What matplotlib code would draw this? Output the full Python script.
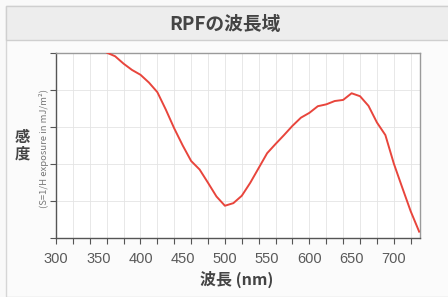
import matplotlib
matplotlib.use('Agg')
import matplotlib.pyplot as plt
from matplotlib.patches import Rectangle
import numpy as np

plt.rcParams['font.family'] = ['Noto Sans CJK JP', 'DejaVu Sans']

# ── data ──
wavelength = [350, 360, 370, 380, 390, 400, 410, 420, 430, 440, 450, 460,
              470, 480, 490, 500, 510, 520, 530, 540, 550, 560, 570, 580,
              590, 600, 610, 620, 630, 640, 650, 660, 670, 680, 690, 700,
              710, 720, 730]
sensitivity = [5.25, 5.02, 4.92, 4.72, 4.55, 4.42, 4.21, 3.95, 3.48, 2.97,
               2.51, 2.09, 1.86, 1.50, 1.13, 0.88, 0.95, 1.15, 1.50, 1.90,
               2.30, 2.55, 2.79, 3.04, 3.26, 3.39, 3.57, 3.62, 3.71, 3.74,
               3.92, 3.84, 3.58, 3.13, 2.79, 2.02, 1.37, 0.73, 0.18]
x_labels = [300, 350, 400, 450, 500, 550, 600, 650, 700]

title = 'RPFの波長域'
xlabel = '波長 (nm)'
ylabel = '感\n度'
ylabel_sub = '(S=1/H exposure in mJ/m²)'

W, H = 448, 297
fig = plt.figure(figsize=(W / 100, H / 100), dpi=100)
fig.patch.set_facecolor('#f9f9f9')

# outer frame + title band
fig.patches.append(Rectangle((6 / W, 0), 1, 1 - 6 / H, transform=fig.transFigure,
                             facecolor='#fbfbfb', edgecolor='#d6d6d6', lw=1, zorder=-2))
fig.patches.append(Rectangle((6 / W, 1 - 40 / H), 1, 34 / H, transform=fig.transFigure,
                             facecolor='#ededed', edgecolor='#cfcfcf', lw=1, zorder=-1))
fig.text(225 / W, 1 - 24 / H, title, ha='center', va='center',
         fontsize=13.5, fontweight='bold', color='#444444')

ax = fig.add_axes([56 / W, 1 - 238.3 / H, (420 - 56) / W, (238.3 - 53.3) / H])
ax.set_zorder(2)
ax.set_facecolor('white')

ax.plot(wavelength, sensitivity, color='#e8453c', lw=1.4, zorder=3)

ax.set_xlim(300, 731)
ax.set_ylim(0, 5)

# labels every 50 nm (no tick mark), tick marks + grid every 20 nm
ax.xaxis.remove_overlapping_locs = False
ax.set_xticks(x_labels)
ax.set_xticklabels([str(v) for v in x_labels], family='Liberation Sans')
ax.set_xticks(np.arange(300, 731, 20), minor=True)
ax.tick_params(axis='x', which='major', length=0, pad=10, labelsize=10.5,
               labelcolor='#5a5a5a')
ax.tick_params(axis='x', which='minor', direction='out', length=4, width=0.8,
               color='#555555')
ax.set_yticks(np.arange(0, 5.1, 1))
ax.set_yticklabels([])
ax.tick_params(axis='y', direction='out', length=4, width=0.8, color='#555555')

ax.xaxis.grid(True, which='minor', color='#e4e4e4', lw=0.6)
ax.yaxis.grid(True, which='major', color='#e4e4e4', lw=0.6)
ax.set_axisbelow(True)

for side in ['left', 'bottom']:
    ax.spines[side].set_color('#555555')
    ax.spines[side].set_linewidth(1.0)
for side in ['top', 'right']:
    ax.spines[side].set_color('#9a9a9a')
    ax.spines[side].set_linewidth(1.0)

fig.text(237 / W, 1 - 279 / H, xlabel, ha='center', va='center',
         fontsize=11.5, fontweight='bold', color='#444444')
fig.text(22 / W, 1 - 145 / H, ylabel, ha='center', va='center',
         fontsize=11, fontweight='bold', color='#444444', linespacing=1.05)
fig.text(44 / W, 1 - 148 / H, ylabel_sub, ha='center', va='center',
         rotation=90, fontsize=6.8, color='#777777')

fig.savefig('out.png', dpi=100, facecolor=fig.get_facecolor())
